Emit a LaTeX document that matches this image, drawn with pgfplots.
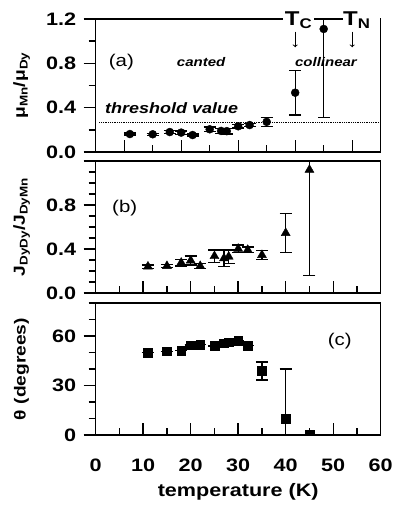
\documentclass[border=0pt]{standalone}
\usepackage{fontspec}
\setmainfont{Liberation Sans}[FakeStretch=1.2]
\usepackage{pgfplots}
\pgfplotsset{compat=1.18}
\pgfplotstableread{
T v e
11 0.162 0.01
15 0.160 0.01
18 0.180 0.015
20 0.175 0.015
22 0.153 0.01
25 0.205 0.02
27 0.190 0.02
28 0.188 0.025
30 0.232 0.015
32 0.243 0.015
35 0.272 0.04
40 0.535 0.20
45 1.11 0.80
}\tabA
\pgfplotstableread{
T v e
11 0.240 0.015
15 0.245 0.015
18 0.275 0.03
20 0.295 0.04
22 0.245 0.02
25 0.335 0.055
27 0.315 0.075
28 0.330 0.06
30 0.402 0.035
32 0.392 0.025
35 0.345 0.04
40 0.545 0.18
45 1.12 0.96
}\tabB
\pgfplotstableread{
T v e
11 50.0 0
15 50.8 0
18 51.2 0
20 54.5 0
22 54.8 0
25 54.0 0
27 55.7 0
28 56.3 0
30 57.3 0
32 54.3 0
35 38.8 5.5
40 10.0 30
45 0.0 0
}\tabC
\begin{document}
\begin{tikzpicture}
\pgfplotsset{
 panel/.style={
  width=285pt, height=132pt, scale only axis,
  axis line style={line width=1.3pt},
  every tick/.style={black, line width=1.4pt},
  tick align=outside,
  major tick length=12pt, minor tick length=7pt,
  major x tick style={yshift=12pt},
  minor x tick style={yshift=7pt},
  xtick pos=bottom, ytick pos=left,
  /pgf/number format/assume math mode=true,
  ticklabel style={font=\fontsize{18}{18}\selectfont\bfseries},
  y tick label style={xshift=-4pt, /pgf/number format/.cd, fixed, fixed zerofill, precision=1},
  x tick label style={yshift=-8pt},
  ylabel style={at={(axis description cs:-0.26,0.5)}, anchor=center, font=\fontsize{16}{16}\selectfont\bfseries},
  clip mode=individual,
  error bars/error bar style={line width=1.3pt},
  error bars/error mark options={rotate=90, mark size=6pt, line width=1.3pt},
 }}
% panel (a)
\begin{axis}[panel, at={(0pt,283pt)}, anchor=south west, height=133pt,
  xmin=5, xmax=55, ymin=0, ymax=1.2,
  xtick={10,20,30,40,50}, minor xtick={15,25,35,45}, xticklabels={},
  ytick={0,0.4,0.8,1.2}, minor ytick={0.2,0.6,1.0},
  ylabel={μ\textsubscript{Mn}/μ\textsubscript{Dy}}]
\addplot[black, densely dotted, line width=0.8pt] coordinates {(5.6,0.265) (55,0.265)};
\addplot[black, only marks, mark=*, mark size=4pt, error bars/.cd, y dir=both, y explicit]
  table[x=T, y=v, y error=e] {\tabA};
\node[font=\fontsize{17}{17}\selectfont] at (axis cs:9.5,0.81) {(a)};
\node[font=\fontsize{12.5}{12.5}\selectfont\bfseries\itshape] at (axis cs:23.5,0.81) {canted};
\node[font=\fontsize{12.5}{12.5}\selectfont\bfseries\itshape] at (axis cs:45.4,0.81) {collinear};
\node[font=\fontsize{15}{15}\selectfont\bfseries\itshape, anchor=west, inner sep=0pt] at (axis cs:6.6,0.40) {threshold value};
\fill[white] (axis cs:48.3,1.16) rectangle (axis cs:54.86,1.24);
\node[fill=white, inner sep=1.5pt, font=\fontsize{20}{20}\selectfont\bfseries] at (axis cs:40.6,1.19) {T\textsubscript{C}};
\node[inner sep=1.5pt, font=\fontsize{20}{20}\selectfont\bfseries] at (axis cs:50.8,1.19) {T\textsubscript{N}};
\draw[->, line width=0.9pt] (axis cs:40,1.085) -- (axis cs:40,0.945);
\draw[->, line width=0.9pt] (axis cs:50,1.085) -- (axis cs:50,0.945);
\end{axis}
% panel (b)
\begin{axis}[panel, at={(0pt,142pt)}, anchor=south west,
  xmin=0, xmax=60, ymin=0, ymax=1.2,
  xtick={0,10,...,60}, minor xtick={5,15,...,55}, xticklabels={},
  ytick={0,0.4,0.8,1.2}, yticklabels={0.0,0.4,0.8,{}},
  minor ytick={0.1,0.2,0.3,0.5,0.6,0.7,0.9,1.0,1.1},
  ylabel={J\textsubscript{DyDy}/J\textsubscript{DyMn}}]
\addplot[black, only marks, mark=triangle*, mark size=5.2pt, error bars/.cd, y dir=both, y explicit]
  table[x=T, y=v, y error=e] {\tabB};
\node[font=\fontsize{17}{17}\selectfont] at (axis cs:6.1,0.77) {(b)};
\end{axis}
% panel (c)
\begin{axis}[panel, at={(0pt,0pt)}, anchor=south west,
  xmin=0, xmax=60, ymin=0, ymax=80,
  xtick={0,10,...,60}, minor xtick={5,15,...,55},
  xticklabel style={/pgf/number format/.cd, fixed, precision=0},
  ytick={0,30,60}, minor ytick={10,20,40,50,70,80},
  y tick label style={/pgf/number format/.cd, fixed, precision=0},
  clip marker paths=true,
  xlabel={temperature (K)},
  xlabel style={yshift=-5pt, font=\fontsize{18}{18}\selectfont\bfseries},
  ylabel={θ (degrees)}]
\addplot[black, only marks, mark=square*, mark size=4.3pt, error bars/.cd, y dir=both, y explicit]
  table[x=T, y=v, y error=e] {\tabC};
\node[font=\fontsize{17}{17}\selectfont] at (axis cs:51.4,57) {(c)};
\end{axis}
\pgfresetboundingbox
\useasboundingbox (-95.7pt,-75pt) rectangle (297.3pt,435pt);
\end{tikzpicture}
\end{document}
